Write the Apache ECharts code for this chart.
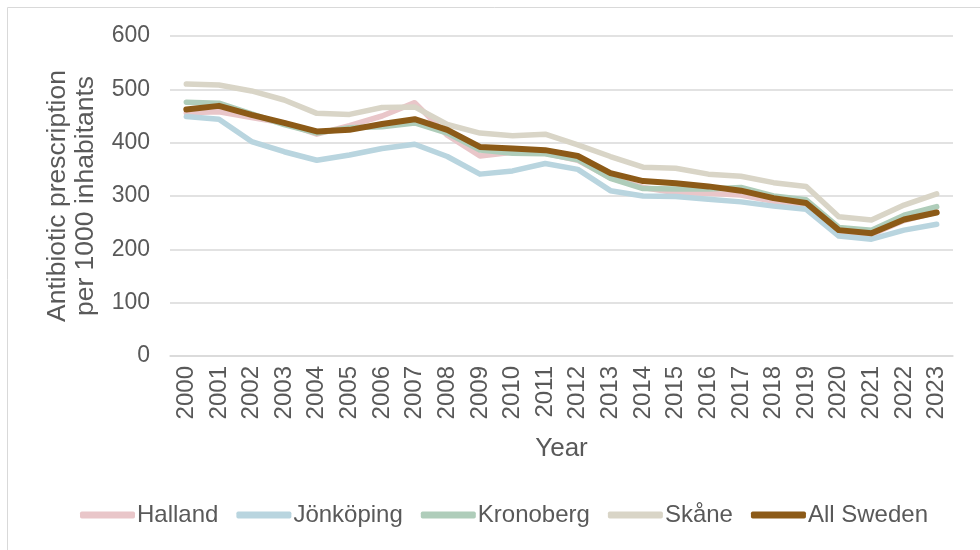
<!DOCTYPE html>
<html>
<head>
<meta charset="utf-8">
<script src="https://cdn.jsdelivr.net/npm/echarts@6/dist/echarts.min.js"></script>
<style>html,body{margin:0;padding:0;background:#fff}#c{width:980px;height:550px}</style>
</head>
<body>
<div id="c"></div>
<script>
const years = ['2000','2001','2002','2003','2004','2005','2006','2007','2008','2009','2010','2011','2012','2013','2014','2015','2016','2017','2018','2019','2020','2021','2022','2023'];
const halland    = [456, 458, 447, 437, 416, 432, 450, 475, 414, 375, 382, 380, 367, 334, 316, 306, 305, 302, 290, 282, 234, 228, 254, 270];
const jonkoping  = [449, 444, 402, 383, 367, 377, 389, 397, 374, 341, 347, 361, 350, 310, 300, 299, 294, 289, 281, 275, 225, 219, 236, 247];
const kronoberg  = [476, 474, 454, 434, 418, 428, 430, 437, 418, 386, 380, 379, 368, 333, 314, 313, 313, 316, 300, 293, 241, 236, 264, 280];
const skane      = [510, 508, 497, 480, 455, 453, 466, 467, 434, 418, 413, 416, 396, 374, 354, 352, 341, 337, 325, 318, 261, 255, 283, 304];
const allSweden  = [462, 469, 452, 437, 421, 424, 435, 444, 424, 392, 389, 386, 375, 343, 328, 324, 318, 310, 296, 287, 236, 230, 256, 269];
const yTicks = [0, 100, 200, 300, 400, 500, 600];

const seriesNames = ['Halland', 'Jönköping', 'Kronoberg', 'Skåne', 'All Sweden'];
const seriesData = [halland, jonkoping, kronoberg, skane, allSweden];
const colors = ['#e9c6c9', '#b9d5df', '#afcdba', '#d9d5c7', '#8c5a17'];
const widths = [5.5, 5.5, 5.5, 5.5, 6];

const chart = echarts.init(document.getElementById('c'), null, {renderer: 'canvas'});
const font = 'Liberation Sans, Arial, sans-serif';
chart.setOption({
  animation: false,
  textStyle: {fontFamily: font},
  graphic: [{
    type: 'rect',
    shape: {x: 7.5, y: 7.5, width: 1000, height: 600},
    style: {fill: 'none', stroke: '#d9d9d9', lineWidth: 1}
  }],
  grid: {left: 170, right: 27, top: 36, bottom: 194, containLabel: false},
  legend: {
    bottom: 18,
    left: 75,
    itemWidth: 55,
    itemHeight: 7,
    itemGap: 18,
    icon: 'roundRect',
    textStyle: {fontSize: 24, color: '#595959', fontFamily: font, padding: [0,0,0,-3]},
    data: seriesNames
  },
  xAxis: {
    type: 'category',
    data: years,
    boundaryGap: true,
    name: 'Year',
    nameLocation: 'middle',
    nameGap: 80,
    nameTextStyle: {fontSize: 26, color: '#595959', fontFamily: font},
    axisLine: {lineStyle: {color: '#d9d9d9', width: 1.5}},
    axisTick: {show: false},
    axisLabel: {rotate: 90, fontSize: 24, color: '#595959', margin: 10, fontFamily: font, interval: 0}
  },
  yAxis: {
    type: 'value',
    min: yTicks[0],
    max: yTicks[yTicks.length - 1],
    interval: 100,
    name: 'Antibiotic prescription\nper 1000 inhabitants',
    nameLocation: 'middle',
    nameRotate: 90,
    nameGap: 70,
    nameTextStyle: {fontSize: 26.5, color: '#595959', lineHeight: 28, fontFamily: font},
    axisLine: {show: false},
    axisTick: {show: false},
    splitLine: {lineStyle: {color: '#d9d9d9', width: 1.5}},
    axisLabel: {fontSize: 23, color: '#595959', margin: 20, fontFamily: font}
  },
  series: seriesNames.map((n, i) => ({
    name: n,
    type: 'line',
    data: seriesData[i],
    symbol: 'none',
    lineStyle: {color: colors[i], width: widths[i], cap: 'round', join: 'round'},
    itemStyle: {color: colors[i]},
    z: 2 + i
  }))
});
</script>
</body>
</html>
